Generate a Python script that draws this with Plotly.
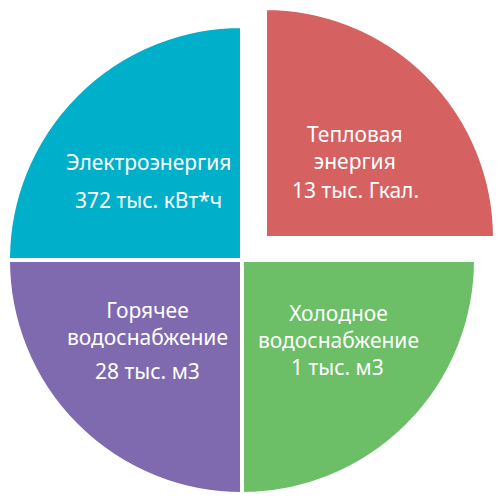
import plotly.graph_objects as go

# quarters of the circle, clockwise from 12 o'clock
names = ["Тепловая<br>энергия", "Холодное<br>водоснабжение",
         "Горячее<br>водоснабжение", "Электроэнергия"]
amounts = ["13 тыс. Гкал.", "1 тыс. м3", "28 тыс. м3", "372 тыс. кВт*ч"]
shares = [25, 25, 25, 25]
colors = ["#D56161", "#6CBE67", "#7F6AB0", "#00AFCA"]
exploded = [True, False, False, False]

W, H = 503, 500
PAGE = 8                     # default body margin of the html page, px
R = 234                      # pie radius, px
R_PULLED = 230               # radius of the pulled-out slice, px
CENTER = (242, 260)          # main pie centre as seen in the window, px
PULLED_CENTER = (265, 238)   # centre of the pulled-out slice, px

# label positions as seen in the window (px) per slice: name block, amount line
name_pos = [(355, 147), (338, 326), (147, 323), (148, 162)]
amount_pos = [(355, 190), (337, 367), (147, 371), (148, 200)]


def to_paper(px, py):
    return (px - PAGE) / W, 1 - (py - PAGE) / H


def domain(cx, cy, r):
    x0, y1 = to_paper(cx - r, cy - r)
    x1, y0 = to_paper(cx + r, cy + r)
    clamp = lambda v: min(max(v, 0), 1)
    return dict(x=[clamp(x0), clamp(x1)], y=[clamp(y0), clamp(y1)])


def pie(show, center, r):
    return go.Pie(
        labels=names,
        values=shares,
        sort=False,
        direction="clockwise",
        rotation=0,
        domain=domain(*center, r),
        marker=dict(colors=[c if s else "rgba(0,0,0,0)" for c, s in zip(colors, show)],
                    line=dict(color="white", width=[4 if s else 0 for s in show])),
        textinfo="none",
        hoverinfo="skip",
        showlegend=False,
    )


fig = go.Figure()
fig.add_trace(pie([not e for e in exploded], CENTER, R))
fig.add_trace(pie(exploded, PULLED_CENTER, R_PULLED))

font = dict(family="Noto Sans", size=21, color="white")
for i in range(len(names)):
    for txt, pos in ((names[i], name_pos[i]), (amounts[i], amount_pos[i])):
        x, y = to_paper(*pos)
        fig.add_annotation(text=txt, x=x, y=y, xref="paper", yref="paper",
                           xanchor="center", yanchor="middle", showarrow=False,
                           font=font, align="center")

fig.update_layout(
    width=W, height=H,
    margin=dict(l=0, r=0, t=0, b=0),
    paper_bgcolor="white",
)

fig.write_html("out.html")
